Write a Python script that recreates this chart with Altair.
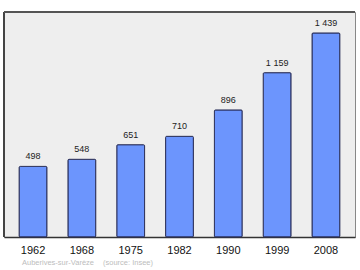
import altair as alt
import pandas as pd

years = ["1962", "1968", "1975", "1982", "1990", "1999", "2008"]
population = [498, 548, 651, 710, 896, 1159, 1439]
labels = ["498", "548", "651", "710", "896", "1 159", "1 439"]
footer_place = "Auberives-sur-Varèze"
footer_source = "(source: Insee)"

df = pd.DataFrame({"year": years, "pop": population, "label": labels})

W, H = 351, 225

x = alt.X("year:N", sort=years,
          scale=alt.Scale(paddingInner=0.43, paddingOuter=0.31),
          axis=alt.Axis(title=None, labelAngle=0, ticks=False, labelPadding=7,
                        labelFont="Liberation Sans", labelFontSize=11, labelColor="#111",
                        domainColor="#333", domainWidth=1.5))
y = alt.Y("pop:Q", scale=alt.Scale(domain=[0, 1587], nice=False), axis=None)

bars = alt.Chart(df).mark_bar(color="#6c95fd", stroke="#2a2f5a", strokeWidth=1,
                              cornerRadius=1).encode(x=x, y=y)
text = alt.Chart(df).mark_text(dy=-10, font="Liberation Sans", fontSize=9,
                               color="#222").encode(x=x, y=y, text="label:N")

left = alt.Chart(df).mark_rule(color="#444", strokeWidth=2).encode(
    x=alt.value(0), y=alt.value(0), y2=alt.value(H))
top = alt.Chart(df).mark_rule(color="#555", strokeWidth=1.5).encode(
    x=alt.value(0), x2=alt.value(W), y=alt.value(0))
foot1 = alt.Chart(pd.DataFrame({"t": [footer_place]})).mark_text(
    align="left", baseline="middle", font="Liberation Sans", fontSize=7.5,
    color="#bdbdbd").encode(x=alt.value(18), y=alt.value(251), text="t:N")
foot2 = alt.Chart(pd.DataFrame({"t": [footer_source]})).mark_text(
    align="left", baseline="middle", font="Liberation Sans", fontSize=7.5,
    color="#bdbdbd").encode(x=alt.value(99), y=alt.value(251), text="t:N")

chart = alt.layer(bars, text, left, top, foot1, foot2).properties(
    width=W, height=H,
    autosize=alt.AutoSizeParams(type="none"),
    padding={"left": 4, "top": 12, "right": 5, "bottom": 33},
    background="white",
).configure_view(fill="#eeeeee", stroke="#888", strokeWidth=1)

chart.save("out.html", embed_options={"renderer": "svg", "actions": False})
